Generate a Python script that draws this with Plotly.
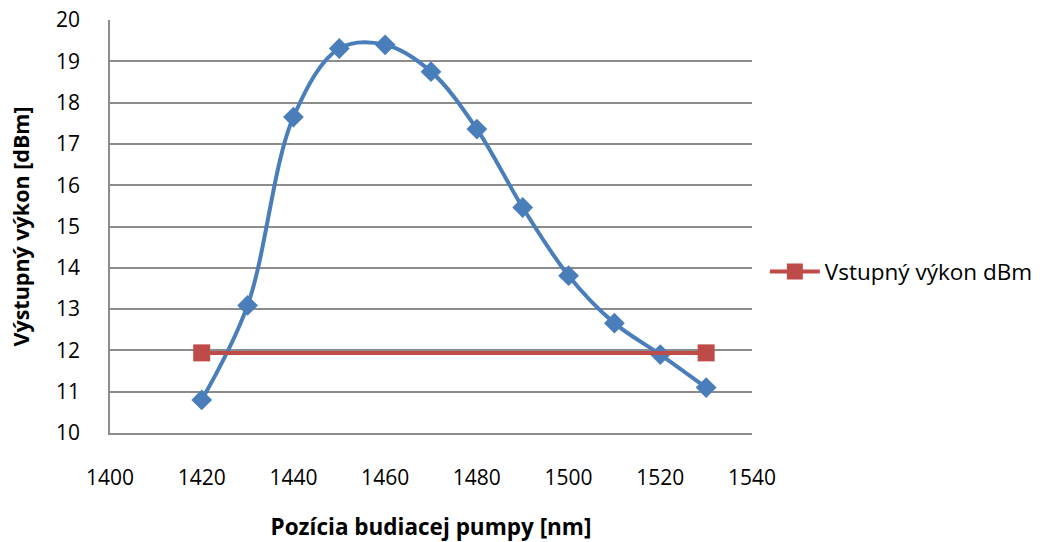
import plotly.graph_objects as go

# Pump wavelength positions [nm] and measured output power [dBm]
wavelength = [1420, 1430, 1440, 1450, 1460, 1470, 1480, 1490, 1500, 1510, 1520, 1530]
output_power = [10.8, 13.09, 17.65, 19.31, 19.4, 18.75, 17.36, 15.46, 13.81, 12.66, 11.9, 11.1]

# Input power reference line
input_wavelength = [1420, 1530]
input_power = [11.94, 11.94]

x_ticks = [1400, 1420, 1440, 1460, 1480, 1500, 1520, 1540]
y_ticks = list(range(10, 21))

BLUE = "#4A7EBB"
RED = "#BE4B48"
GRID = "#8C8C8C"
FONT = "Open Sans"

fig = go.Figure()

fig.add_trace(go.Scatter(
    x=wavelength, y=output_power,
    mode="lines+markers",
    name="Výstupný výkon dBm",
    showlegend=False,
    line=dict(color=BLUE, width=4, shape="spline", smoothing=1.0),
    marker=dict(symbol="diamond", size=16, color=BLUE),
))

fig.add_trace(go.Scatter(
    x=input_wavelength, y=input_power,
    mode="lines+markers",
    name="Vstupný výkon dBm",
    line=dict(color=RED, width=4),
    marker=dict(symbol="square", size=17, color=RED),
))

fig.update_layout(
    width=1050, height=542,
    margin=dict(l=110, r=298, t=20, b=109, autoexpand=False),
    paper_bgcolor="white",
    plot_bgcolor="white",
    font=dict(family=FONT, size=21, color="black"),
    legend=dict(
        x=1.02, y=0.39, xanchor="left", yanchor="middle",
        font=dict(family=FONT, size=22.5, color="black"),
        itemwidth=50,
        bgcolor="rgba(0,0,0,0)",
    ),
)

fig.update_xaxes(
    range=[1400, 1540],
    tickvals=x_ticks,
    ticktext=[str(v) for v in x_ticks],
    showgrid=False,
    zeroline=False,
    automargin=False,
    showline=True, linecolor=GRID, linewidth=1.5,
    ticks="",
    ticklabelstandoff=25,
    tickfont=dict(family=FONT, size=21),
    title=dict(text="<b>Pozícia budiacej pumpy [nm]</b>", font=dict(family=FONT, size=22.5), standoff=35),
)

fig.update_yaxes(
    range=[10, 20],
    tickvals=y_ticks,
    showgrid=True, gridcolor=GRID, gridwidth=1.5,
    zeroline=False,
    automargin=False,
    showline=True, linecolor=GRID, linewidth=1.5,
    ticks="",
    ticklabelstandoff=24,
    tickfont=dict(family=FONT, size=21),
    title=dict(text="<b>Výstupný výkon [dBm]</b>", font=dict(family=FONT, size=21.5), standoff=21),
)

fig.write_html("out.html")
